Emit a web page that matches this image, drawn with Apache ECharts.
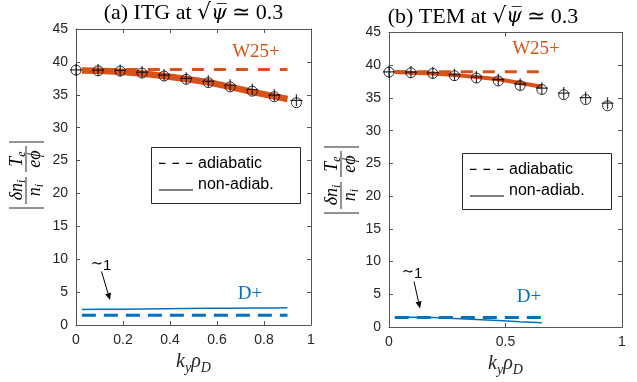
<!DOCTYPE html>
<html>
<head>
<meta charset="utf-8">
<script src="https://cdn.jsdelivr.net/npm/echarts@6/dist/echarts.min.js"></script>
<style>
  html, body { margin: 0; padding: 0; background: #ffffff; }
  #chart { width: 637px; height: 382px; }
</style>
</head>
<body>
<div id="chart"></div>
<script>
// k_y rho_D values of the reference (marker) points, shared by both panels
const kyMarks = [0, 0.094, 0.188, 0.281, 0.375, 0.469, 0.563, 0.656, 0.75, 0.844, 0.938];

// (a) ITG case
const itgPlus   = [38.8, 38.75, 38.7, 38.45, 38.0, 37.5, 37.05, 36.45, 35.8, 34.95, 34.15];
const itgCircle = [38.75, 38.65, 38.6, 38.3, 37.85, 37.35, 36.85, 36.2, 35.55, 34.7, 33.8];
const itgKy     = [0.025, 0.094, 0.188, 0.281, 0.375, 0.469, 0.563, 0.656, 0.75, 0.844, 0.9];
const itgW25Adiab    = [38.85, 38.85, 38.85, 38.85, 38.85, 38.85, 38.85, 38.85, 38.85, 38.85, 38.85];
const itgW25NonAdiab = [38.7, 38.65, 38.5, 38.25, 37.85, 37.4, 36.9, 36.2, 35.45, 34.75, 34.35];
const itgDAdiab      = [1.5, 1.5, 1.5, 1.5, 1.5, 1.5, 1.5, 1.5, 1.5, 1.5, 1.5];
const itgDNonAdiab   = [2.35, 2.38, 2.41, 2.44, 2.47, 2.5, 2.53, 2.55, 2.57, 2.6, 2.62];

// (b) TEM case
const temPlus   = [39.0, 38.95, 38.85, 38.55, 38.2, 37.8, 37.1, 36.5, 35.75, 35.05, 34.2];
const temCircle = [38.95, 38.85, 38.75, 38.4, 38.05, 37.6, 36.9, 36.3, 35.5, 34.75, 33.8];
const temKy     = [0.025, 0.094, 0.188, 0.281, 0.375, 0.469, 0.563, 0.656];
const temW25Adiab    = [39.0, 39.0, 39.0, 39.0, 39.0, 39.0, 39.0, 39.0];
const temW25NonAdiab = [38.95, 38.85, 38.75, 38.5, 38.2, 37.85, 37.3, 36.7];
const temDAdiab      = [1.45, 1.45, 1.45, 1.45, 1.45, 1.45, 1.45, 1.45];
const temDNonAdiab   = [1.55, 1.52, 1.45, 1.33, 1.17, 1.0, 0.82, 0.65];

// axis ticks
const yTicks = { min: 0, max: 45, interval: 5 };
const xTicksA = { min: 0, max: 1, interval: 0.2 };
const xTicksB = { min: 0, max: 1, interval: 0.5 };

const ORANGE = '#D95319';
const BLUE = '#0072BD';
const INK = '#262626';
const FRAME = '#555555';

const zip = (xs, ys) => xs.map((x, i) => [x, ys[i]]);

const tickFont = { color: INK, fontSize: 14, fontFamily: 'Liberation Sans' };

function xAxes(grid, ticks) {
  const base = {
    gridIndex: grid, type: 'value', min: ticks.min, max: ticks.max, interval: ticks.interval,
    axisLine: { onZero: false, lineStyle: { color: FRAME, width: 1 } },
    axisTick: { inside: true, length: 4, lineStyle: { color: FRAME } },
    splitLine: { show: false }
  };
  return [
    Object.assign({}, base, {
      position: 'bottom',
      axisLabel: Object.assign({ margin: 8 }, tickFont),
      name: '{i|k}{s|y}{i|ρ}{s|D}',
      nameLocation: 'middle',
      nameGap: 22,
      nameTextStyle: {
        rich: {
          i: { fontFamily: 'Liberation Serif', fontStyle: 'italic', fontSize: 20, color: INK },
          s: { fontFamily: 'Liberation Serif', fontStyle: 'italic', fontSize: 14, color: INK, padding: [12, 0, 0, 0] }
        }
      }
    }),
    Object.assign({}, base, { position: 'top', axisLabel: { show: false } })
  ];
}

function yAxes(grid) {
  const base = {
    gridIndex: grid, type: 'value', min: yTicks.min, max: yTicks.max, interval: yTicks.interval,
    axisLine: { onZero: false, lineStyle: { color: FRAME, width: 1 } },
    axisTick: { inside: true, length: 4, lineStyle: { color: FRAME } },
    splitLine: { show: false }
  };
  return [
    Object.assign({}, base, { position: 'left', axisLabel: Object.assign({ margin: 8 }, tickFont) }),
    Object.assign({}, base, { position: 'right', axisLabel: { show: false } })
  ];
}

function lineSeries(xi, yi, data, color, width, dash, z) {
  return {
    type: 'line', xAxisIndex: xi, yAxisIndex: yi, data: data,
    showSymbol: false, symbol: 'none', smooth: false, z: z,
    lineStyle: { color: color, width: width, type: dash ? dash : 'solid', cap: 'butt' },
    silent: true
  };
}

function markerSeries(xi, yi, plus, circle) {
  return [
    {
      type: 'scatter', xAxisIndex: xi, yAxisIndex: yi, data: zip(kyMarks, circle),
      symbol: 'circle', symbolSize: 10, clip: false, z: 10,
      itemStyle: { color: 'rgba(0,0,0,0)', borderColor: '#000', borderWidth: 1 }
    },
    {
      type: 'scatter', xAxisIndex: xi, yAxisIndex: yi, data: zip(kyMarks, plus),
      symbol: 'path://M5,0L5,10M0,5L10,5', symbolSize: 12, clip: false, z: 11,
      itemStyle: { color: 'rgba(0,0,0,0)', borderColor: '#000', borderWidth: 1.2 }
    }
  ];
}

function title(x, y, label) {
  return {
    type: 'text', x: x, y: y,
    style: {
      text: '{r|' + label + ' at }{q|√}{p|ψ\u0305}{r| ≃ 0.3}',
      align: 'center', verticalAlign: 'middle',
      rich: {
        r: { fontFamily: 'Liberation Serif', fontSize: 22, color: '#000' },
        q: { fontFamily: 'DejaVu Serif', fontSize: 22, color: '#000' },
        p: { fontFamily: 'DejaVu Serif', fontSize: 20, fontStyle: 'italic', color: '#000' }
      }
    }
  };
}

function legendBox(x, y) {
  const txt = { fontFamily: 'Liberation Sans', fontSize: 16, fill: '#000', align: 'left', verticalAlign: 'middle' };
  return {
    type: 'group', x: x, y: y,
    children: [
      { type: 'rect', shape: { x: 0, y: 0, width: 149, height: 56 }, style: { fill: '#fff', stroke: INK, lineWidth: 1 } },
      { type: 'line', shape: { x1: 7.5, y1: 15.8, x2: 41, y2: 15.8 }, style: { stroke: '#000', lineWidth: 1.3, lineDash: [6.5, 7] } },
      { type: 'line', shape: { x1: 7.5, y1: 42.5, x2: 41.5, y2: 42.5 }, style: { stroke: '#000', lineWidth: 1.2 } },
      { type: 'text', x: 46.5, y: 15.8, style: Object.assign({ text: 'adiabatic' }, txt) },
      { type: 'text', x: 46.5, y: 37, style: Object.assign({ text: 'non-adiab.' }, txt) }
    ]
  };
}

// |δn_i/n_i · T_e/(eϕ)| drawn as a rotated group
function yLabel(cx, cy) {
  const it = { fontFamily: 'Liberation Serif', fontStyle: 'italic', fontSize: 18, color: INK };
  const sub = { fontFamily: 'Liberation Serif', fontStyle: 'italic', fontSize: 12, color: INK, padding: [9, 0, 0, 0] };
  const txt = (x, y, s) => ({
    type: 'text', x: x, y: y,
    style: { text: s, align: 'center', verticalAlign: 'middle', rich: { a: it, s: sub } }
  });
  const stroke = { stroke: INK, lineWidth: 1 };
  return {
    type: 'group', x: cx, y: cy, rotation: Math.PI / 2,
    children: [
      { type: 'line', shape: { x1: -33, y1: -18, x2: -33, y2: 17 }, style: stroke },
      { type: 'line', shape: { x1: 33, y1: -18, x2: 33, y2: 17 }, style: stroke },
      txt(-15, -10, '{a|δn}{s|i}'),
      { type: 'line', shape: { x1: -29, y1: -1, x2: -2, y2: -1 }, style: stroke },
      txt(-15, 8, '{a|n}{s|i}'),
      txt(16, -10, '{a|T}{s|e}'),
      { type: 'line', shape: { x1: 3, y1: -1, x2: 29, y2: -1 }, style: stroke },
      txt(16, 8, '{a|eϕ}')
    ]
  };
}

function arrow(x1, y1, x2, y2) {
  const dx = x2 - x1, dy = y2 - y1, len = Math.hypot(dx, dy);
  const ux = dx / len, uy = dy / len, hl = 7, hw = 3;
  const bx = x2 - ux * hl, by = y2 - uy * hl;
  return [
    { type: 'line', shape: { x1: x1, y1: y1, x2: bx, y2: by }, style: { stroke: '#000', lineWidth: 1 } },
    { type: 'polygon', shape: { points: [[x2, y2], [bx - uy * hw, by + ux * hw], [bx + uy * hw, by - ux * hw]] }, style: { fill: '#000' } }
  ];
}

function approx1(x, y) {
  return {
    type: 'text', x: x, y: y,
    style: {
      text: '{t|∼}{n|1}', align: 'center', verticalAlign: 'middle',
      rich: {
        t: { fontFamily: 'DejaVu Serif', fontSize: 15, color: '#000', padding: [0, 0, 4, 0] },
        n: { fontFamily: 'Liberation Sans', fontSize: 15, color: '#000' }
      }
    }
  };
}

function serifLabel(x, y, s, color) {
  return {
    type: 'text', x: x, y: y,
    style: { text: s, fontFamily: 'Liberation Serif', fontSize: 19, fill: color, align: 'center', verticalAlign: 'middle' }
  };
}

const chart = echarts.init(document.getElementById('chart'), null, { renderer: 'canvas' });

const option = {
  animation: false,
  backgroundColor: '#ffffff',
  grid: [
    { left: 76, top: 29, width: 235, height: 296, containLabel: false },
    { left: 389, top: 32.5, width: 233, height: 296, containLabel: false }
  ],
  xAxis: [].concat(xAxes(0, xTicksA), xAxes(1, xTicksB)),
  yAxis: [].concat(yAxes(0), yAxes(1)),
  series: [].concat(
    // panel (a)
    lineSeries(0, 0, zip(itgKy, itgW25Adiab), ORANGE, 3, [12, 10], 2),
    lineSeries(0, 0, zip(itgKy, itgW25NonAdiab), ORANGE, 6.5, null, 3),
    lineSeries(0, 0, zip(itgKy, itgDAdiab), BLUE, 3, [14, 8], 2),
    lineSeries(0, 0, zip(itgKy, itgDNonAdiab), BLUE, 1.5, null, 3),
    markerSeries(0, 0, itgPlus, itgCircle),
    // panel (b)
    lineSeries(2, 2, zip(temKy, temW25Adiab), ORANGE, 3, [12, 10], 2),
    lineSeries(2, 2, zip(temKy, temW25NonAdiab), ORANGE, 4, null, 3),
    lineSeries(2, 2, zip(temKy, temDAdiab), BLUE, 3, [14, 8], 2),
    lineSeries(2, 2, zip(temKy, temDNonAdiab), BLUE, 1.5, null, 3),
    markerSeries(2, 2, temPlus, temCircle)
  ),
  graphic: [].concat(
    [
      title(193.5, 13.5, '(a) ITG'),
      title(483, 17, '(b) TEM'),
      yLabel(27, 175),
      yLabel(342, 180),
      legendBox(151.5, 147.5),
      legendBox(462.5, 153.5),
      serifLabel(256, 52, 'W25+', ORANGE),
      serifLabel(536, 49, 'W25+', ORANGE),
      serifLabel(250, 294, 'D+', BLUE),
      serifLabel(529, 297, 'D+', BLUE),
      approx1(101, 266),
      approx1(412, 274)
    ],
    arrow(101.5, 271.5, 110, 300),
    arrow(414, 281.5, 420, 308.5)
  )
};

chart.setOption(option);
</script>
</body>
</html>
